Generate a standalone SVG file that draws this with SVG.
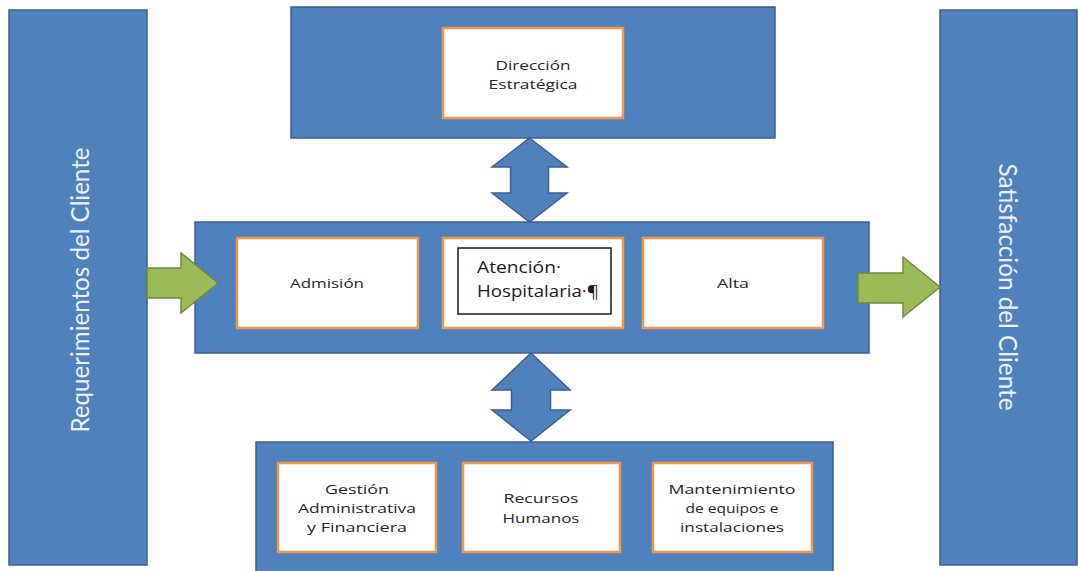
<svg xmlns="http://www.w3.org/2000/svg" width="1078" height="571" viewBox="0 0 1078 571">
<style>
.blue{fill:#4f81bd;stroke:#3a6090;stroke-width:1.5}
.inner{fill:#ffffff;stroke:#f79646;stroke-width:2.5}
.green{fill:#9bbb59;stroke:#71893f;stroke-width:1.5}
.dbl{fill:#4f81bd;stroke:#3a6090;stroke-width:1.5}
.lbl{font-family:"Open Sans","Liberation Sans",sans-serif;font-size:13.5px;fill:#262626;text-anchor:middle}
.side{font-family:Lato,"Liberation Sans",sans-serif;font-size:25px;fill:#eef3fa;text-anchor:middle}
</style>
<rect width="1078" height="571" fill="#ffffff"/>
<g id="requerimientos">
<rect class="blue" x="9" y="10" width="138" height="555"/>
<text class="side" transform="translate(89,290) rotate(-90)" textLength="285" lengthAdjust="spacingAndGlyphs">Requerimientos del Cliente</text>
</g>
<g id="satisfaccion">
<rect class="blue" x="940" y="10" width="137" height="555"/>
<text class="side" transform="translate(999,287) rotate(90)" textLength="247" lengthAdjust="spacingAndGlyphs">Satisfacción del Cliente</text>
</g>
<g id="top-block">
<rect class="blue" x="291" y="7" width="484" height="131"/>
</g>
<g id="direccion">
<rect class="inner" x="443" y="28" width="180" height="90"/>
<text class="lbl" x="533" y="70" textLength="75" lengthAdjust="spacingAndGlyphs">Dirección</text>
<text class="lbl" x="533" y="89" textLength="89" lengthAdjust="spacingAndGlyphs">Estratégica</text>
</g>
<g id="middle-block">
<rect class="blue" x="195" y="222" width="674" height="131"/>
</g>
<g id="admision">
<rect class="inner" x="237" y="238" width="181" height="90"/>
<text class="lbl" x="327" y="288" textLength="74" lengthAdjust="spacingAndGlyphs">Admisión</text>
</g>
<g id="atencion">
<rect class="inner" x="443" y="238" width="180" height="90"/>
<rect x="458" y="248" width="153" height="66" fill="#ffffff" stroke="#1a1a1a" stroke-width="1.5"/>
<text x="477" y="273" font-family="'Open Sans','Liberation Sans',sans-serif" font-size="15.5" fill="#1a1a1a" textLength="84" lengthAdjust="spacingAndGlyphs">Atención·</text>
<text x="477" y="297" font-family="'Open Sans','Liberation Sans',sans-serif" font-size="15.5" fill="#1a1a1a" textLength="122" lengthAdjust="spacingAndGlyphs">Hospitalaria·¶</text>
</g>
<g id="alta">
<rect class="inner" x="643" y="238" width="180" height="90"/>
<text class="lbl" x="733" y="288" textLength="32" lengthAdjust="spacingAndGlyphs">Alta</text>
</g>
<g id="bottom-block">
<rect class="blue" x="256" y="442" width="577" height="140"/>
</g>
<g id="gestion">
<rect class="inner" x="278" y="463" width="158" height="89"/>
<text class="lbl" x="357" y="494" textLength="64" lengthAdjust="spacingAndGlyphs">Gestión</text>
<text class="lbl" x="357" y="513" textLength="118" lengthAdjust="spacingAndGlyphs">Administrativa</text>
<text class="lbl" x="357" y="532" textLength="100" lengthAdjust="spacingAndGlyphs">y Financiera</text>
</g>
<g id="recursos">
<rect class="inner" x="463" y="463" width="157" height="89"/>
<text class="lbl" x="541" y="503" textLength="75" lengthAdjust="spacingAndGlyphs">Recursos</text>
<text class="lbl" x="541" y="523" textLength="77" lengthAdjust="spacingAndGlyphs">Humanos</text>
</g>
<g id="mantenimiento">
<rect class="inner" x="653" y="463" width="159" height="89"/>
<text class="lbl" x="732" y="494" textLength="127" lengthAdjust="spacingAndGlyphs">Mantenimiento</text>
<text class="lbl" x="732" y="513" textLength="93" lengthAdjust="spacingAndGlyphs">de equipos e</text>
<text class="lbl" x="732" y="532" textLength="104" lengthAdjust="spacingAndGlyphs">instalaciones</text>
</g>
<g id="connectors">
<path class="dbl" d="M529.5,138 L567,167 L548.5,167 L548.5,193 L567,193 L529.5,222 L492,193 L510.5,193 L510.5,167 L492,167 Z"/>
<path class="dbl" d="M531,353 L570,390 L550.5,390 L550.5,410 L570,410 L531,441 L492,410 L511.5,410 L511.5,390 L492,390 Z"/>
<path class="green" d="M147,268 L181,268 L181,253 L218,283 L181,313 L181,298 L147,298 Z"/>
<path class="green" d="M858,273 L903,273 L903,257 L940,287 L903,317 L903,303 L858,303 Z"/>
</g>
</svg>
